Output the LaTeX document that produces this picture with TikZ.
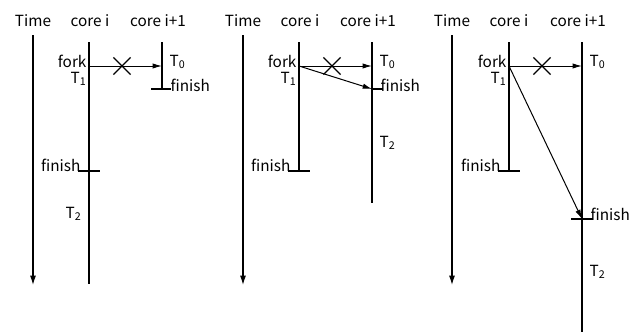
\documentclass[tikz,border=0pt]{standalone}
\usepackage{fontspec}
\setmainfont{Noto Sans CJK JP}
\usetikzlibrary{arrows.meta}
\usetikzlibrary{shapes.misc}

\tikzset{
  core/.style={line width=1.5pt},
  stop/.style={line width=1.2pt},
  timeaxis/.style={line width=0.9pt,-{Latex[length=7pt,width=4.5pt]}},
  msg/.style={line width=0.75pt,-{Latex[length=7pt,width=4pt]}},
  lost/.style={draw,cross out,line width=0.9pt,minimum size=12pt,inner sep=0pt},
  lbl/.style={inner sep=1pt},
}

\begin{document}
\begin{tikzpicture}[x=0.75pt,y=-0.75pt,font=\fontsize{11.5}{13}\selectfont]
\useasboundingbox (0,0) rectangle (640,332);

% ---- caso 1: T0 finisce prima
\node[lbl] (time1) at (33,21) {Time};
\node[lbl] (ci1) at (90,21) {core i};
\node[lbl] (cj1) at (158,21) {core i+1};
\coordinate (ta1) at (33,35);
\coordinate (tb1) at (33,285);
\draw[timeaxis] (ta1) -- (tb1); % asse tempo
\coordinate (ia1) at (89,42);
\coordinate (ib1) at (89,284);
\draw[core] (ia1) -- (ib1); % core i
\coordinate (ja1) at (162,42);
\coordinate (jb1) at (162,89);
\draw[core] (ja1) -- (jb1); % core i+1
\coordinate (fk1) at (89,66);
\coordinate (fj1) at (162,66);
\draw[msg] (fk1) -- (fj1);
\node[lost] (x1) at (122,66) {};
\draw[stop] ([xshift=-8]jb1) -- ([xshift=7]jb1);
\coordinate (fi1) at (89,171);
\draw[stop] ([xshift=-8]fi1) -- ([xshift=8]fi1);
\node[lbl,anchor=east] (fork1) at (88,61) {fork};
\node[lbl,anchor=east] (tu1) at (88,79) {T\textsubscript{1}};
\node[lbl,anchor=west] (tz1) at (168,62) {T\textsubscript{0}};
\node[lbl,anchor=west] (end1) at (169,85) {finish};
\node[lbl,anchor=east] (endi1) at (82,165) {finish};
\node[lbl,anchor=east] (td1) at (83,214) {T\textsubscript{2}};

% ---- caso 2: T1 finisce prima di T0
\begin{scope}[shift={(210,0)}]
\node[lbl] (time2) at (33,21) {Time};
\node[lbl] (ci2) at (90,21) {core i};
\node[lbl] (cj2) at (158,21) {core i+1};
\coordinate (ta2) at (33,35);
\coordinate (tb2) at (33,285);
\draw[timeaxis] (ta2) -- (tb2);
\coordinate (ia2) at (89,42);
\coordinate (ib2) at (89,171);
\draw[core] (ia2) -- (ib2);
\draw[stop] ([xshift=-8]ib2) -- ([xshift=8]ib2);
\coordinate (ja2) at (162,42);
\coordinate (jb2) at (162,203);
\draw[core] (ja2) -- (jb2);
\coordinate (fk2) at (89,66);
\coordinate (fj2) at (162,66);
\draw[msg] (fk2) -- (fj2);
\node[lost] (x2) at (122,66) {};
\coordinate (jn2) at (162,89);
\draw[msg] (fk2) -- (jn2);
\draw[stop] (jn2) -- ([xshift=8]jn2);
\node[lbl,anchor=east] (fork2) at (88,61) {fork};
\node[lbl,anchor=east] (tu2) at (88,79) {T\textsubscript{1}};
\node[lbl,anchor=west] (tz2) at (168,62) {T\textsubscript{0}};
\node[lbl,anchor=west] (end2) at (169,85) {finish};
\node[lbl,anchor=east] (endi2) at (82,165) {finish};
\node[lbl,anchor=west] (td2) at (168,143) {T\textsubscript{2}};
\end{scope}

% ---- caso 3: T0 finisce dopo
\begin{scope}[shift={(420,0)}]
\node[lbl] (time3) at (32,21) {Time};
\node[lbl] (ci3) at (89,21) {core i};
\node[lbl] (cj3) at (158,21) {core i+1};
\coordinate (ta3) at (32,35);
\coordinate (tb3) at (32,285);
\draw[timeaxis] (ta3) -- (tb3);
\coordinate (ia3) at (89,42);
\coordinate (ib3) at (89,171);
\draw[core] (ia3) -- (ib3);
\draw[stop] ([xshift=-8]ib3) -- ([xshift=8]ib3);
\coordinate (ja3) at (162,42);
\coordinate (jb3) at (162,332);
\draw[core] (ja3) -- (jb3);
\coordinate (fk3) at (89,66);
\coordinate (fj3) at (162,66);
\draw[msg] (fk3) -- (fj3);
\node[lost] (x3) at (122,66) {};
\coordinate (jn3) at (162,219);
\draw[msg] (fk3) -- (jn3);
\draw[stop] ([xshift=-8]jn3) -- ([xshift=8]jn3);
\node[lbl,anchor=east] (fork3) at (88,61) {fork};
\node[lbl,anchor=east] (tu3) at (88,79) {T\textsubscript{1}};
\node[lbl,anchor=west] (tz3) at (168,62) {T\textsubscript{0}};
\node[lbl,anchor=east] (endi3) at (82,165) {finish};
\node[lbl,anchor=west] (end3) at (169,214) {finish};
\node[lbl,anchor=west] (td3) at (168,272) {T\textsubscript{2}};
\end{scope}

\end{tikzpicture}
\end{document}
